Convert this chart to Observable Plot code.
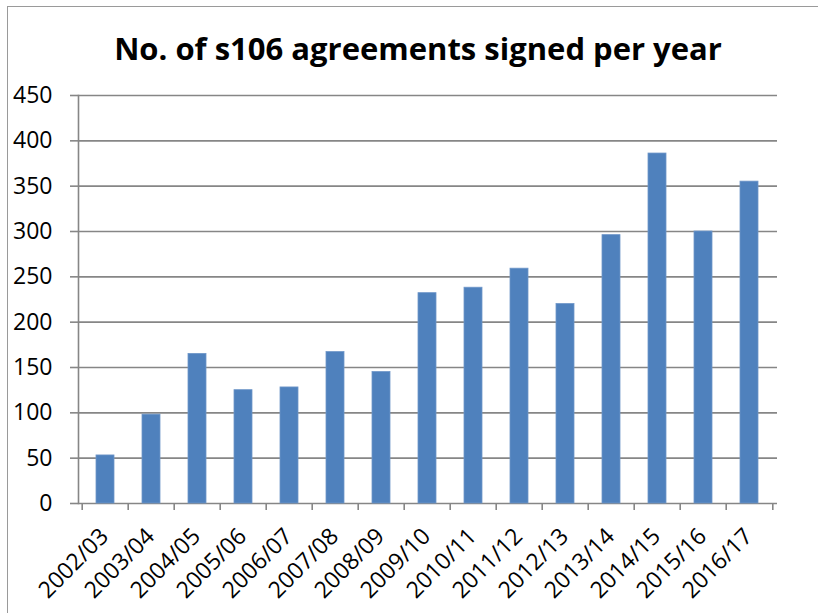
<!DOCTYPE html>
<html><head><meta charset="utf-8">
<script src="https://cdn.jsdelivr.net/npm/d3@7"></script>
<script src="https://cdn.jsdelivr.net/npm/@observablehq/plot@0.6"></script>
<style>
body{margin:0;background:#fff;}
#wrap{position:relative;width:818px;height:613px;overflow:hidden;}
#border{position:absolute;left:7px;top:6px;right:-10px;bottom:-10px;border-left:1.5px solid #9a9a9a;border-top:1.5px solid #9a9a9a;}
#chart{position:absolute;left:0;top:0;}
</style></head><body>
<div id="wrap"><div id="border"></div><div id="chart"></div></div>
<script>
const title = "No. of s106 agreements signed per year";
const years = ["2002/03","2003/04","2004/05","2005/06","2006/07","2007/08","2008/09","2009/10","2010/11","2011/12","2012/13","2013/14","2014/15","2015/16","2016/17"];
const agreements = [53, 98, 165, 125, 128, 167, 145, 232, 238, 259, 220, 296, 386, 300, 355];
const yTicks = [0, 50, 100, 150, 200, 250, 300, 350, 400, 450];

const data = years.map((year, i) => ({year, value: agreements[i]}));
const W = 818, H = 613, mL = 78, mR = 41, mT = 95, mB = 110;
const step = (W - mL - mR) / years.length;
const gray = "#868686";

const chart = Plot.plot({
  width: W, height: H,
  marginLeft: mL, marginRight: mR, marginTop: mT, marginBottom: mB,
  style: {fontFamily: "'Open Sans', sans-serif", fontSize: "23px", color: "#000", background: "none", overflow: "visible"},
  x: {domain: years, paddingInner: 0.6, paddingOuter: 0.3, label: null},
  y: {domain: [0, 450], label: null},
  marks: [
    Plot.gridY(yTicks, {stroke: gray, strokeOpacity: 1, strokeWidth: 1.6}),
    Plot.frame({anchor: "left", stroke: gray, strokeWidth: 1.6}),
    Plot.axisY(yTicks, {tickSize: 8, tickPadding: 18, stroke: gray, strokeWidth: 1.6, fill: "#000", label: null}),
    Plot.axisX({tickSize: 7, stroke: gray, strokeWidth: 1.6, fill: "none", dx: -step / 2, label: null}),
    Plot.axisX([years[years.length - 1]], {tickSize: 7, stroke: gray, strokeWidth: 1.6, fill: "none", dx: step / 2, label: null}),
    Plot.axisX({tickSize: 0, tickRotate: -45, tickPadding: 29, dx: -1, fill: "#000", label: null}),
    Plot.barY(data, {x: "year", y: "value", fill: "#4F81BD", stroke: "#6f97c9", strokeWidth: 0.8}),
    Plot.text([title], {frameAnchor: "top", lineAnchor: "middle", dx: -10, dy: -45, fontSize: 31, fontWeight: "bold", fill: "#000"})
  ]
});
document.getElementById("chart").appendChild(chart);
</script>
</body></html>
